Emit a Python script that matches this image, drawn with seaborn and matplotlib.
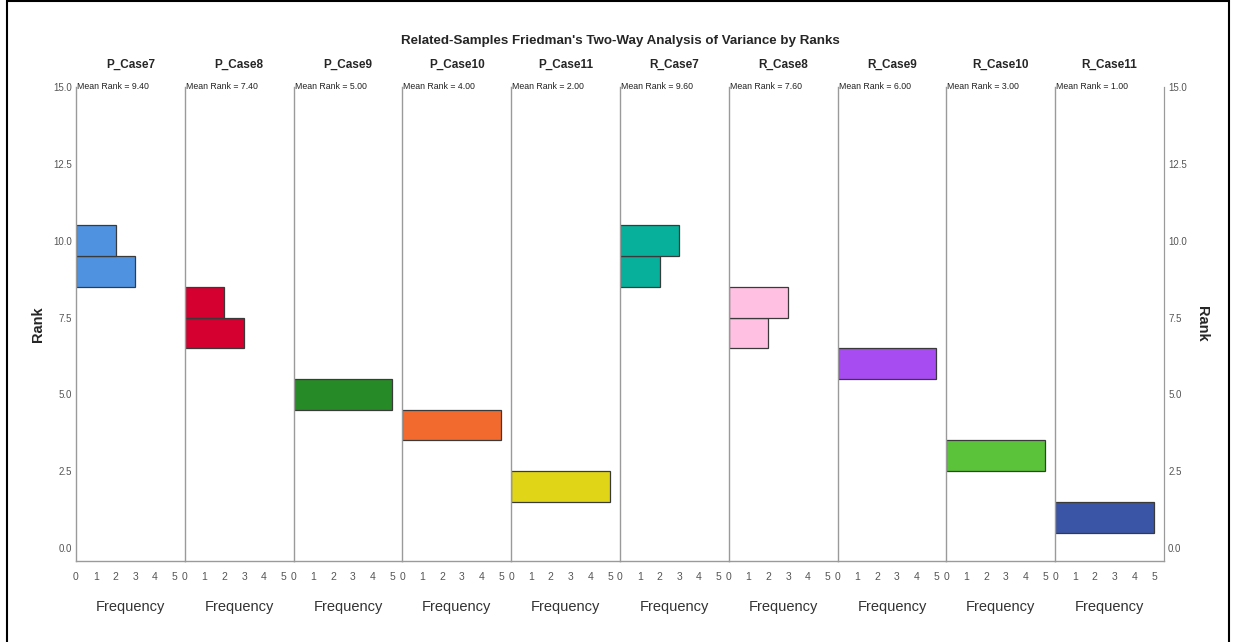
import numpy as np
import matplotlib.pyplot as plt
import seaborn as sns
from matplotlib.patches import Rectangle

# ranks of the 5 subjects for each case
cases = ['P_Case7', 'P_Case8', 'P_Case9', 'P_Case10', 'P_Case11',
         'R_Case7', 'R_Case8', 'R_Case9', 'R_Case10', 'R_Case11']
ranks = [
    [9, 9, 9, 10, 10],
    [7, 7, 7, 8, 8],
    [5, 5, 5, 5, 5],
    [4, 4, 4, 4, 4],
    [2, 2, 2, 2, 2],
    [10, 10, 10, 9, 9],
    [8, 8, 8, 7, 7],
    [6, 6, 6, 6, 6],
    [3, 3, 3, 3, 3],
    [1, 1, 1, 1, 1],
]
colors = ['#4F93E0', '#D5002F', '#268A26', '#F26A2E', '#E0D516',
          '#07B09A', '#FFC0E2', '#A64CF0', '#5BC33A', '#3A55A6']
y_ticks = [0.0, 2.5, 5.0, 7.5, 10.0, 12.5, 15.0]
x_ticks = [0, 1, 2, 3, 4, 5]

sns.set_style('white')
plt.rcParams['font.family'] = ['Liberation Sans', 'DejaVu Sans']

fig, axes = plt.subplots(1, len(cases), sharey=True, figsize=(12.33, 6.42), dpi=100)
fig.subplots_adjust(left=0.0616, right=0.944, bottom=0.1262, top=0.8645, wspace=0)

spine_c = '#9a9a9a'
for i, (ax, name, r, c) in enumerate(zip(axes, cases, ranks, colors)):
    sns.histplot(y=r, discrete=True, ax=ax, color=c, alpha=1,
                 edgecolor='#3a3a3a', linewidth=0.9)
    ax.set_xlim(0, 5.5)
    ax.set_ylim(-0.42, 15.0)
    ax.set_xticks(x_ticks)
    ax.set_xticklabels([str(t) for t in x_ticks], fontsize=7.5, color='#555555')
    ax.tick_params(axis='x', length=0, pad=8)
    ax.tick_params(axis='y', length=0, pad=3)
    for s in ['top', 'right']:
        ax.spines[s].set_visible(False)
    for s in ['left', 'bottom']:
        ax.spines[s].set_color(spine_c)
        ax.spines[s].set_linewidth(1.0)
    ax.set_ylabel('')
    ax.set_xlabel('Frequency', fontsize=10.5, color='#333333', labelpad=13)
    ax.set_title(name, fontsize=8.5, fontweight='bold', pad=14)
    ax.text(0.05, 15.0, f'Mean Rank = {np.mean(r):.2f}', fontsize=6.3,
            va='center', ha='left', color='#222222')
    ax.grid(False)

axes[0].set_yticks(y_ticks)
axes[0].set_yticklabels([f'{t:.1f}' for t in y_ticks], fontsize=7, color='#555555')
axes[0].set_ylabel('Rank', fontsize=10.5, fontweight='bold', labelpad=6)

last = axes[-1]
last.spines['right'].set_visible(True)
last.spines['right'].set_color(spine_c)
ax2 = last.twinx()
ax2.set_ylim(-0.42, 15.0)
ax2.set_yticks(y_ticks)
ax2.set_yticklabels([f'{t:.1f}' for t in y_ticks], fontsize=7, color='#555555')
ax2.tick_params(axis='y', length=0, pad=3)
for s in ['top', 'left', 'bottom']:
    ax2.spines[s].set_visible(False)
ax2.spines['right'].set_color(spine_c)
ax2.set_ylabel('Rank', fontsize=10.5, fontweight='bold', rotation=270, labelpad=16)

fig.text(0.503, 0.936, "Related-Samples Friedman's Two-Way Analysis of Variance by Ranks",
         ha='center', va='center', fontsize=9.6, fontweight='bold')

fig.add_artist(Rectangle((7 / 1233, -0.05), (1229 - 7) / 1233, 1.049,
                         transform=fig.transFigure, fill=False, ec='black', lw=1.5))

plt.savefig('out.png', dpi=100)
plt.close()
